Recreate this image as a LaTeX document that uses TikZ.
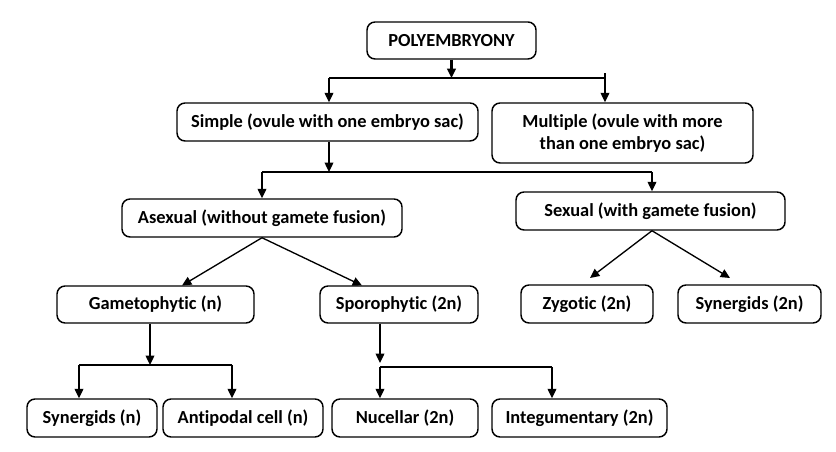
\documentclass[tikz,border=0pt]{standalone}
\usepackage{fontspec}
\setmainfont{Carlito}[Ligatures=NoCommon]
\usetikzlibrary{arrows.meta}
\begin{document}
\begin{tikzpicture}[x=0.75pt,y=-0.75pt,
  box/.style={draw, line width=1.1pt, rounded corners=6pt, align=center, inner sep=2pt,
    font=\bfseries\fontsize{13.8}{16.5}\selectfont},
  sz/.style 2 args={minimum width=#1, minimum height=#2},
  ln/.style={line width=1pt},
  arr/.style={line width=1pt, -{Triangle[length=7pt,width=6.5pt]}}]
\useasboundingbox[fill=white] (0,0) rectangle (836,452);
% nodes
\node[box, sz={126.75pt}{27.75pt}] (poly) at (451.5,40.5) {POLYEMBRYONY};
\node[box, sz={225.75pt}{28.5pt}] (simple) at (327.5,122) {Simple (ovule with one embryo sac)};
\node[box, sz={195.75pt}{45pt}] (multiple) at (622.5,133) {Multiple (ovule with more\\than one embryo sac)};
\node[box, sz={210pt}{28.5pt}] (asexual) at (262,218) {Asexual (without gamete fusion)};
\node[box, sz={201.75pt}{28.5pt}] (sexual) at (650.5,211) {Sexual (with gamete fusion)};
\node[box, sz={147.75pt}{27.75pt}] (gameto) at (155.5,304.5) {Gametophytic (n)};
\node[box, sz={118.5pt}{27.75pt}] (sporo) at (399,304.5) {Sporophytic (2n)};
\node[box, sz={99pt}{28.5pt}] (zyg) at (587,304) {Zygotic (2n)};
\node[box, sz={107.25pt}{28.5pt}] (syn2) at (749.5,304) {Synergids (2n)};
\node[box, sz={97.5pt}{28.5pt}] (synn) at (92,418) {Synergids (n)};
\node[box, sz={120pt}{28.5pt}] (anti) at (243,418) {Antipodal cell (n)};
\node[box, sz={109.5pt}{28.5pt}] (nuc) at (405,418) {Nucellar (2n)};
\node[box, sz={131.25pt}{28.5pt}] (integ) at (579.5,418) {Integumentary (2n)};
% junction coordinates
\coordinate (j1) at (451.5,78);
\coordinate (j1l) at (329,78);
\coordinate (j1r) at (605,78);
\coordinate (j2) at (329,172);
\coordinate (j2l) at (262,172);
\coordinate (j2r) at (652,172);
\coordinate (j3) at (150,365);
\coordinate (j3l) at (79,365);
\coordinate (j3r) at (232,365);
\coordinate (j4) at (380,367);
\coordinate (j4r) at (552,367);
% level 1
\draw[arr, line width=1.6pt] (poly.south) -- (j1);
\draw[ln] (j1l) -- (j1r) -- ++(0,-5);
\draw[arr] (j1l) -- (j1l |- simple.north);
\draw[arr] (j1r) -- (j1r |- multiple.north);
% level 2
\draw[arr] (j2 |- simple.south) -- (j2);
\draw[ln] (j2l) -- (j2r);
\draw[arr] (j2l) -- (asexual.north);
\draw[arr] (j2r) -- (j2r |- sexual.north);
% level 3
\draw[arr] (asexual.south) -- (182,285.5);
\draw[arr] (asexual.south) -- (362,285.5);
\draw[arr] (sexual.south -| j2r) -- (590,278);
\draw[arr] (sexual.south -| j2r) -- (730,278);
% level 4
\draw[arr] (j3 |- gameto.south) -- (j3);
\draw[ln] (j3l) -- (j3r);
\draw[arr] (j3l) -- (j3l |- synn.north);
\draw[arr] (j3r) -- (j3r |- anti.north);
\draw[arr] (j4 |- sporo.south) -- (380,363);
\draw[ln] (j4) -- (j4r);
\draw[arr] (j4) -- (j4 |- nuc.north);
\draw[arr] (j4r) -- (j4r |- integ.north);
\end{tikzpicture}
\end{document}
